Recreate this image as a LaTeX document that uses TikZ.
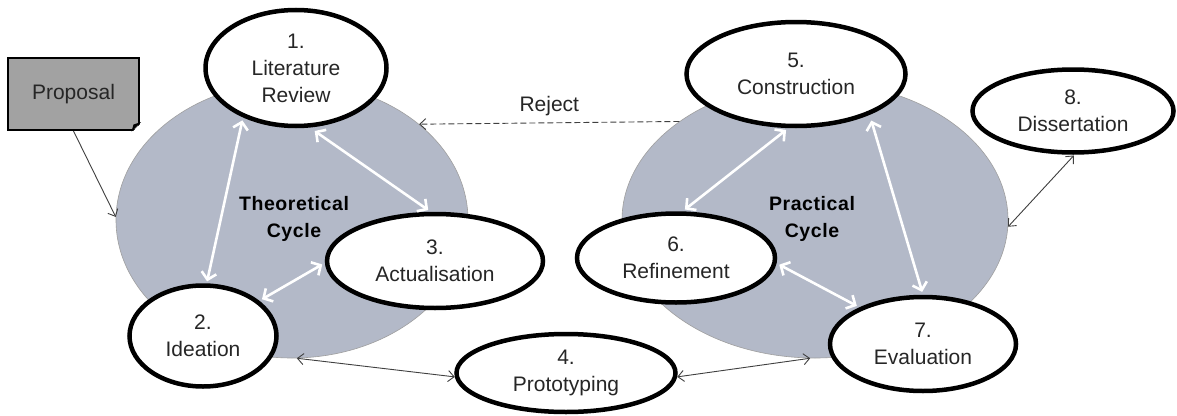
\documentclass[tikz,border=0pt]{standalone}
\usepackage{fontspec}
\setmainfont{Liberation Sans}
\usetikzlibrary{shapes.geometric,arrows.meta}
\definecolor{cycfill}{HTML}{B3B9C8}
\definecolor{propgray}{HTML}{A2A2A2}
\begin{document}
\begin{tikzpicture}[x=1pt,y=-1pt,
  stage/.style={ellipse, draw=black, line width=4.5pt, fill=white, inner sep=0pt, align=center,
    font=\fontsize{21}{27}\selectfont, text=black!85},
  cyclebg/.style={ellipse, draw=gray!75, line width=0.6pt, fill=cycfill, inner sep=0pt},
  warr/.style={draw=white, line width=2.6pt, {Straight Barb[length=7pt,width=15pt]}-{Straight Barb[length=7pt,width=15pt]}},
  tarr/.style={draw=black!75, line width=0.9pt, -{Straight Barb[length=6pt,width=11pt]}},
  tdarr/.style={draw=black!75, line width=0.9pt, {Straight Barb[length=6pt,width=11pt]}-{Straight Barb[length=6pt,width=11pt]}},
  lbl/.style={font=\fontsize{19.5}{27}\selectfont\bfseries\addfontfeatures{LetterSpace=3}, align=center, text=black}]
\useasboundingbox (0,0) rectangle (1177,415);
\fill[white] (0,0) rectangle (1177,415);

% cycle backgrounds
\node[cyclebg, minimum width=352pt, minimum height=276pt] (lc) at (292,220) {};
\node[cyclebg, minimum width=386pt, minimum height=276pt] (rc) at (815,220) {};

% cycle labels
\node[lbl] (tl) at (294,219) {Theoretical\\Cycle};
\node[lbl] (pl) at (812,219) {Practical\\Cycle};

% proposal
\node[draw=black, line width=2pt, fill=propgray, minimum width=131pt, minimum height=72pt, inner sep=0pt,
  font=\fontsize{21}{27}\selectfont, text=black!85] (prop) at (73.5,94) {Proposal};
\fill[white] (133,131.5) -- (141.2,131.5) -- (141.2,123) -- cycle;
\fill[black] (131.5,131.5) -- (141.2,122) -- (133.5,124.5) -- cycle;

% dashed reject arrow
\draw[dashed, dash pattern=on 6pt off 3pt, draw=black!75, line width=0.9pt, -{Straight Barb[length=6pt,width=11pt]}]
  (rc.144.7) -- node[above=3pt, font=\fontsize{21}{27}\selectfont, text=black!85] (rej) {Reject} (lc.37.6);

% stages
\node[stage, minimum width=181pt, minimum height=116pt] (n1) at (296,68) {1.\\Literature\\Review};
\node[stage, minimum width=147pt, minimum height=101pt] (n2) at (203,336) {2.\\Ideation};
\node[stage, minimum width=216pt, minimum height=94pt] (n3) at (435,261) {3.\\Actualisation};
\node[stage, minimum width=219pt, minimum height=78pt] (n4) at (566,373) {4.\\Prototyping};
\node[stage, minimum width=219pt, minimum height=104pt] (n5) at (796,74) {5.\\Construction};
\node[stage, minimum width=198pt, minimum height=89pt] (n6) at (676,258) {6.\\Refinement};
\node[stage, minimum width=186pt, minimum height=94pt] (n7) at (923,344) {7.\\Evaluation};
\node[stage, minimum width=201pt, minimum height=83pt] (n8) at (1073,111) {8.\\Dissertation};

% white cycle arrows
\draw[warr, shorten <=3pt, shorten >=2pt] (n1.223) -- (n2.86);
\draw[warr, shorten <=6pt, shorten >=3pt] (n1.283) -- (n3.95);
\draw[warr, shorten <=3pt, shorten >=3pt] (n2.32) -- (n3.181);
\draw[warr, shorten <=3pt, shorten >=3pt] (n5.262) -- (n6.82);
\draw[warr, shorten <=6pt, shorten >=3pt] (n5.331) -- (n7.90);
\draw[warr, shorten <=3pt, shorten >=3pt] (n6.357) -- (n7.150);

% thin arrows
\draw[tarr] (prop.south) -- (lc.179);
\draw[tdarr] (lc.272) -- (n4.182);
\draw[tdarr] (n4.358) -- (rc.268);
\draw[tdarr, shorten <=1pt] (n8.272) -- (rc.358);
\end{tikzpicture}
\end{document}
